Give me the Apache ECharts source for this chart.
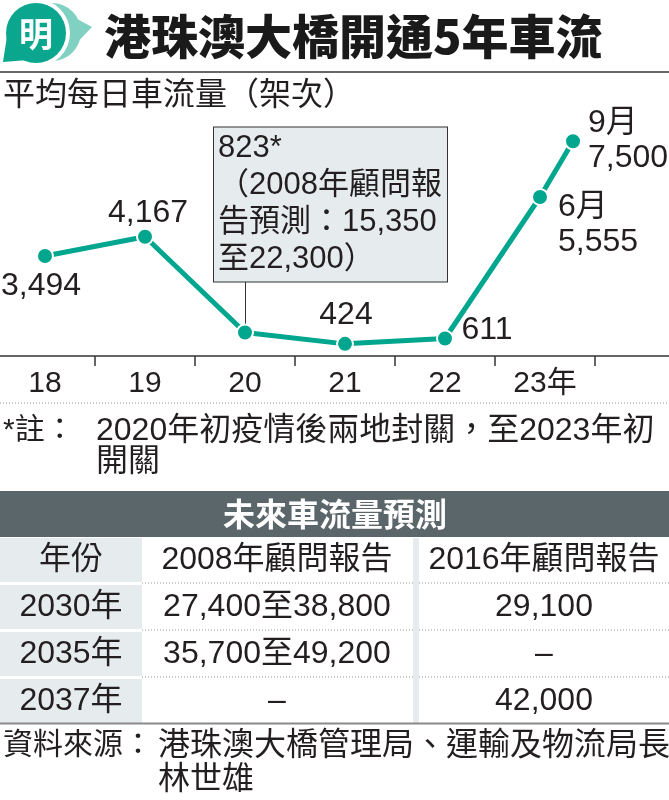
<!DOCTYPE html>
<html>
<head>
<meta charset="utf-8">
<script src="https://cdn.jsdelivr.net/npm/echarts@6/dist/echarts.min.js"></script>
<style>
html,body{margin:0;padding:0;background:#fff;}
#c{width:669px;height:800px;}
</style>
</head>
<body>
<div id="c"></div>
<script>
// ---------- DATA ----------
const titleText = '港珠澳大橋開通5年車流';
const subtitleText = '平均每日車流量（架次）';
const yearLabels = ['18', '19', '20', '21', '22', '23年', ''];
const pointX = [18, 19, 20, 21, 22, 22.95, 23.28];      // year position (2023: June, Sept)
const flow = [3494, 4167, 823, 424, 611, 5555, 7500];
const pointLabels = [
  '3,494',
  '4,167',
  '823*\n（2008年顧問報\n告預測：15,350\n至22,300）',
  '424',
  '611',
  '6月\n5,555',
  '9月\n7,500'
];
const noteHead = '*註：';
const noteLines = ['2020年初疫情後兩地封關，至2023年初', '開關'];
const tableTitle = '未來車流量預測';
const tableHeader = ['年份', '2008年顧問報告', '2016年顧問報告'];
const tableRows = [
  ['2030年', '27,400至38,800', '29,100'],
  ['2035年', '35,700至49,200', '–'],
  ['2037年', '–', '42,000']
];
const sourceHead = '資料來源：';
const sourceLines = ['港珠澳大橋管理局、運輸及物流局長', '林世雄'];

// ---------- STYLE ----------
const FONT = "'Liberation Sans','Noto Sans CJK TC',sans-serif";
const CJK = "'Noto Sans CJK TC','Liberation Sans',sans-serif";
const TXT = '#231f20';
const TEAL = '#00a68e';
const LIGHT = '#e6ebee';
// label placement (offset from point centre), alignment
const labelPlace = [
  {offset: [-4, 30], align: 'center'},
  {offset: [3, -24], align: 'center'},
  {offset: [-31, -128], align: 'left', box: true},
  {offset: [1, -29], align: 'center'},
  {offset: [42, -8], align: 'center'},
  {offset: [18, 28], align: 'left'},
  {offset: [15, -1], align: 'left'}
];
const calloutTop = 2600;

const chart = echarts.init(document.getElementById('c'), null, {renderer: 'canvas'});

const seriesData = pointX.map((x, i) => {
  const p = labelPlace[i];
  const lab = {
    show: true,
    position: 'inside',
    formatter: pointLabels[i],
    offset: p.offset,
    align: p.align,
    verticalAlign: 'middle',
    fontSize: 32,
    lineHeight: 35,
    color: TXT,
    fontFamily: FONT
  };
  if (p.box) {
    Object.assign(lab, {
      fontSize: 31,
      lineHeight: 37,
      backgroundColor: LIGHT,
      borderColor: '#333',
      borderWidth: 1,
      padding: [3, 4, 3, 4],
      width: 225
    });
  }
  return {value: [x, flow[i]], label: lab};
});

// ---------- GRAPHIC (title, notes, table) ----------
function txt(x, y, text, opt) {
  opt = opt || {};
  return {
    type: 'text', x: x, y: y, silent: true,
    style: {
      text: text,
      fill: opt.fill || TXT,
      font: (opt.weight || 'normal') + ' ' + (opt.size || 32) + 'px ' + (opt.family || FONT),
      align: opt.align || 'left',
      verticalAlign: 'middle',
      textAlign: opt.align || 'left',
      textVerticalAlign: 'middle'
    }
  };
}
const g = [];
// logo
g.push({type: 'circle', shape: {cx: 52, cy: 32, r: 29}, style: {fill: '#80d1c1'}});
g.push({type: 'polygon', shape: {points: [[68, 14], [92, 27], [70, 50]]}, style: {fill: '#80d1c1'}});
g.push({type: 'circle', shape: {cx: 36, cy: 33, r: 34}, style: {fill: '#fff'}});
g.push({type: 'circle', shape: {cx: 36, cy: 33, r: 30}, style: {fill: '#0ba68e'}});
g.push({type: 'polygon', shape: {points: [[7, 36], [3, 62], [28, 60]]}, style: {fill: '#0ba68e'}});
g.push(txt(36, 34, '明', {fill: '#fff', size: 34, weight: 'bold', align: 'center', family: CJK}));
// title
g.push(txt(104, 36, titleText, {size: 47, weight: '900', family: CJK, fill: '#1a1a1a'}));
g.push({type: 'line', shape: {x1: 0, y1: 72, x2: 669, y2: 72}, style: {stroke: '#333', lineWidth: 1.5}});
g.push(txt(3, 93, subtitleText, {size: 32, family: CJK}));
// dotted separator
g.push({type: 'line', shape: {x1: 0, y1: 403, x2: 669, y2: 403}, style: {stroke: '#999', lineWidth: 1, lineDash: [1, 2]}});
// note
g.push(txt(3, 431, noteHead, {size: 30}));
g.push(txt(96, 431, noteLines[0], {size: 32}));
g.push(txt(96, 462, noteLines[1], {size: 32}));
// table
g.push({type: 'rect', shape: {x: 0, y: 491, width: 669, height: 46}, style: {fill: '#5b666b'}});
g.push(txt(335, 514, tableTitle, {fill: '#fff', size: 32, weight: 'bold', align: 'center', family: CJK}));
const rowTop = [538, 585, 632, 679];
const rowH = 44;
const colX = [71, 277, 544];
const allRows = [tableHeader].concat(tableRows);
allRows.forEach((row, r) => {
  const top = rowTop[r];
  g.push({type: 'rect', shape: {x: 0, y: top, width: 142, height: rowH}, style: {fill: LIGHT}});
  if (r > 0) {
    g.push({type: 'line', shape: {x1: 142, y1: top - 2, x2: 413, y2: top - 2}, style: {stroke: '#999', lineWidth: 1, lineDash: [1, 2]}});
    g.push({type: 'line', shape: {x1: 419, y1: top - 2, x2: 669, y2: top - 2}, style: {stroke: '#999', lineWidth: 1, lineDash: [1, 2]}});
  }
  row.forEach((cell, c) => {
    g.push(txt(colX[c], top + rowH / 2, cell, {size: 32, align: 'center'}));
  });
});
g.push({type: 'rect', shape: {x: 413, y: 538, width: 6, height: 185}, style: {fill: LIGHT}});
g.push({type: 'line', shape: {x1: 0, y1: 723.5, x2: 669, y2: 723.5}, style: {stroke: '#8a8a8a', lineWidth: 2}});
// source
g.push(txt(3, 746, sourceHead, {size: 30}));
g.push(txt(158, 746, sourceLines[0], {size: 32}));
g.push(txt(158, 780, sourceLines[1], {size: 32}));

const option = {
  animation: false,
  backgroundColor: '#fff',
  grid: {left: -5, top: 127, width: 700, height: 229, containLabel: false, outerBoundsMode: 'none'},
  xAxis: [
    {
      type: 'category',
      data: yearLabels,
      boundaryGap: true,
      axisLine: {lineStyle: {color: '#333', width: 1.5}},
      axisTick: {show: true, length: 10, lineStyle: {color: '#333', width: 1.5}},
      axisLabel: {fontSize: 30, color: TXT, margin: 13, fontFamily: FONT, interval: 0},
      splitLine: {show: false}
    },
    {type: 'value', min: 17.5, max: 24.5, show: false, splitLine: {show: false}}
  ],
  yAxis: {type: 'value', min: 0, max: 8000, show: false, splitLine: {show: false}},
  graphic: {elements: g},
  series: [{
    type: 'line',
    xAxisIndex: 1,
    data: seriesData,
    symbol: 'circle',
    symbolSize: 16,
    z: 3,
    itemStyle: {color: TEAL, borderColor: '#fff', borderWidth: 2},
    lineStyle: {color: TEAL, width: 5},
    markLine: {
      z: 1,
      silent: true,
      symbol: 'none',
      label: {show: false},
      lineStyle: {color: '#333', width: 1, type: 'solid'},
      data: [[{coord: [pointX[2], flow[2]]}, {coord: [pointX[2], calloutTop]}]]
    }
  }]
};
chart.setOption(option);
</script>
</body>
</html>
